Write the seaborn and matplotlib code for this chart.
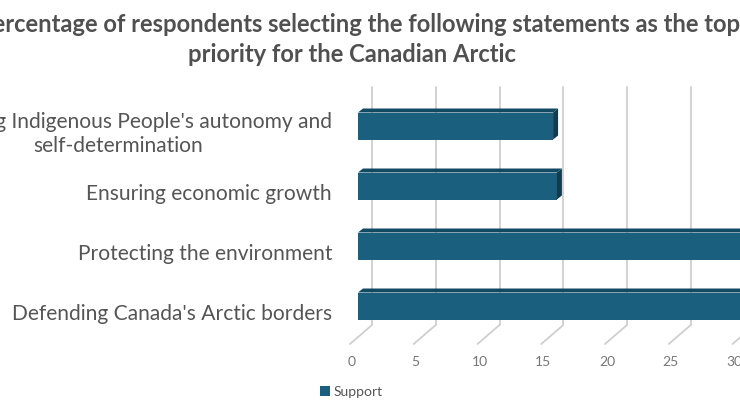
import matplotlib
matplotlib.use("Agg")
import matplotlib.pyplot as plt
import seaborn as sns
import pandas as pd
from matplotlib.transforms import ScaledTranslation, blended_transform_factory, IdentityTransform
from matplotlib.patches import Polygon
from matplotlib.lines import Line2D

# ---------------- data ----------------
categories = [
    "Respecting Indigenous People's autonomy and\nself-determination",
    "Ensuring economic growth",
    "Protecting the environment",
    "Defending Canada's Arctic borders",
]
values = [15.3, 15.6, 36.0, 35.0]
series_name = "Support"
x_ticks = [0, 5, 10, 15, 20, 25, 30, 35]
title_lines = [
    "Percentage of respondents selecting the following statements as the top",
    "priority for the Canadian Arctic",
]

# ---------------- style ----------------
sns.set_theme(style="white")
FONT = ["Lato", "DejaVu Sans"]
plt.rcParams["font.family"] = FONT

FRONT = "#1b5f7e"
TOP = "#134a63"
SIDE = "#0f3c51"
GRID = "#cfcfcf"
LABEL_C = "#555555"
TICK_C = "#777777"
TITLE_C = "#505050"

W, H = 740, 416
fig = plt.figure(figsize=(W / 100, H / 100), dpi=100)
fig.patch.set_facecolor("white")
renderer = fig.canvas.get_renderer()


def fit_size(text, target_px, weight="normal"):
    t = fig.text(0, 0, text, fontsize=10, fontweight=weight, family=FONT)
    w = t.get_window_extent(renderer).width
    t.remove()
    return 10 * target_px / w


# axes placed in pixel layout (right side extends past the crop)
px_per_unit = 12.75
ax_left, ax_top, ax_bottom = 358, 96, 336
xmax = 40
ax = fig.add_axes([ax_left / W, (H - ax_bottom) / H,
                   px_per_unit * xmax / W, (ax_bottom - ax_top) / H])
ax.patch.set_visible(False)

df = pd.DataFrame({"category": categories, "value": values,
                   "series": [series_name] * len(categories)})
sns.barplot(data=df, x="value", y="category", hue="series", orient="h",
            palette=[FRONT], width=0.45, saturation=1, ax=ax, zorder=3,
            linewidth=0)
ax.set_xlim(0, xmax)
for s in ax.spines.values():
    s.set_visible(False)
ax.set_xticks([])
ax.set_yticks([])
ax.set_xlabel("")
ax.set_ylabel("")

px = lambda v: v / 100.0
to_disp = ax.transData.transform

# back-wall gridlines and floor diagonals
back_dx = 14
grid_top, grid_bot = 87, 325
for v in x_ticks:
    xd = to_disp((v, 0))[0] + back_dx
    fig.add_artist(Line2D([xd, xd], [H - grid_top, H - grid_bot],
                          transform=IdentityTransform(), color=GRID, lw=1.3,
                          zorder=-1))
    fig.add_artist(Line2D([xd, xd - 22], [H - grid_bot, H - grid_bot - 19],
                          transform=IdentityTransform(), color=GRID, lw=1.3,
                          zorder=-1))

# 3D top and side faces of the bars
ddx, ddy = 5, 4
for p in ax.patches:
    x0, y0 = p.get_x(), p.get_y()
    w, h = p.get_width(), p.get_height()
    if w == 0:
        continue
    (lx, by), (rx, ty) = to_disp((x0, y0 + h)), to_disp((x0 + w, y0))
    top_y = max(by, ty)
    bot_y = min(by, ty)
    top_face = [(lx, top_y), (rx, top_y), (rx + ddx, top_y + ddy), (lx + ddx, top_y + ddy)]
    side_face = [(rx, top_y), (rx + ddx, top_y + ddy), (rx + ddx, bot_y + ddy), (rx, bot_y)]
    fig.add_artist(Polygon(top_face, closed=True, transform=IdentityTransform(),
                           facecolor=TOP, edgecolor="none", zorder=2))
    fig.add_artist(Polygon(side_face, closed=True, transform=IdentityTransform(),
                           facecolor=SIDE, edgecolor="none", zorder=2))

# tick labels (front edge of floor)
tick_fs = 10
tick_tr = blended_transform_factory(ax.transData, fig.transFigure) + \
    ScaledTranslation(px(-6), 0, fig.dpi_scale_trans)
for v in x_ticks:
    ax.text(v, (H - 362) / H, str(v), transform=tick_tr, ha="center",
            va="center", fontsize=tick_fs, color=TICK_C, clip_on=False)

# category labels
cat_fs = (fit_size("Ensuring economic growth", 245)
          + fit_size("Defending Canada's Arctic borders", 322)) / 2
cat_tr = blended_transform_factory(fig.transFigure, ax.transData) + \
    ScaledTranslation(0, px(-8), fig.dpi_scale_trans)
for i, c in enumerate(categories):
    ax.text(332 / W, i, c, transform=cat_tr, ha="right", va="center",
            multialignment="center", fontsize=cat_fs, color=LABEL_C,
            linespacing=1.25, clip_on=False)

# title
title_fs = fit_size(title_lines[1], 329, weight="bold")
fig.text(359 / W, (H - 25) / H, title_lines[0], ha="center", va="center",
         fontsize=title_fs, fontweight="bold", color=TITLE_C)
fig.text(352 / W, (H - 55) / H, title_lines[1], ha="center", va="center",
         fontsize=title_fs, fontweight="bold", color=TITLE_C)

# legend
leg_fs = fit_size("Support", 49)
sns.move_legend(ax, loc="center left", bbox_to_anchor=(320 / W, (H - 392) / H),
                bbox_transform=fig.transFigure, frameon=False, title=None,
                fontsize=leg_fs, handlelength=0.7, handleheight=0.7,
                handletextpad=0.3, borderpad=0, borderaxespad=0)
for t in ax.get_legend().get_texts():
    t.set_color(LABEL_C)

fig.savefig("out.png", dpi=100)
